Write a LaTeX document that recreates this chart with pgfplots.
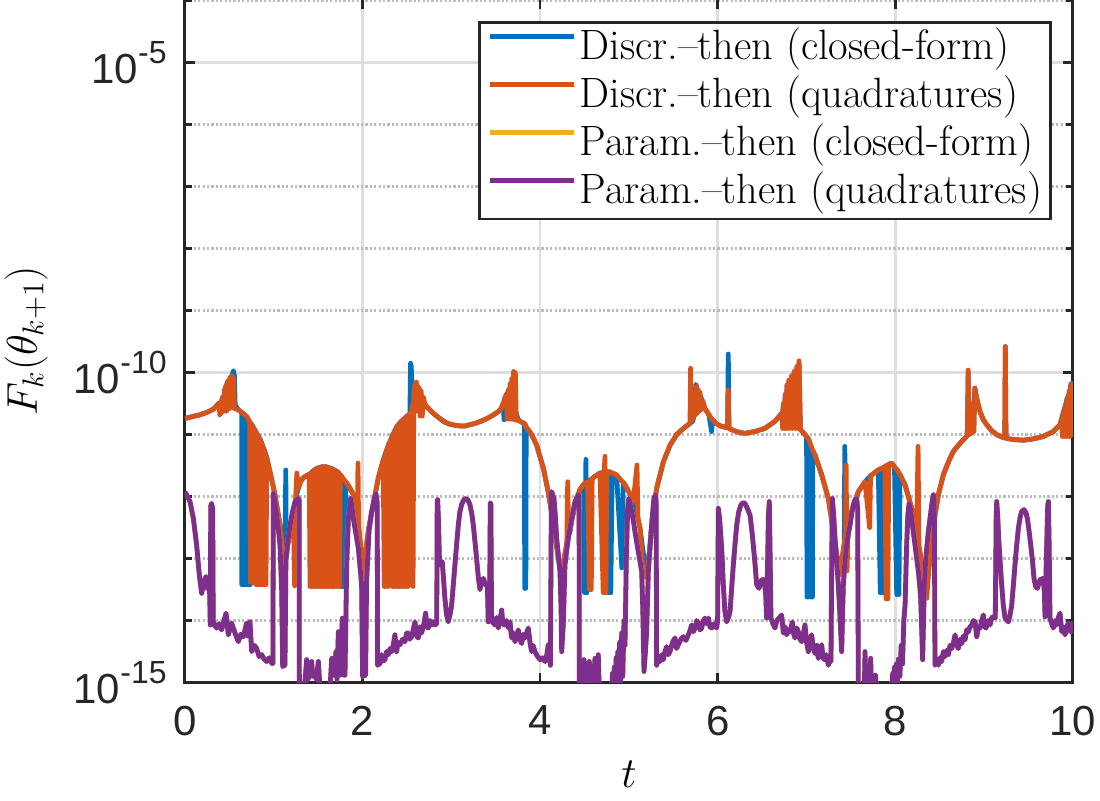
\RequirePackage{fix-cm}
\documentclass[border=0pt]{standalone}
\usepackage{fontspec}
\usepackage{pgfplots}
\usepackage{pgfplotstable}
\pgfplotsset{compat=1.18}

\newfontfamily\sansf{Liberation Sans}
\definecolor{mblue}{RGB}{0,114,189}
\definecolor{morange}{RGB}{217,83,25}
\definecolor{myellow}{RGB}{237,177,32}
\definecolor{mpurple}{RGB}{126,47,142}
\definecolor{axgray}{RGB}{38,38,38}
\definecolor{gridmaj}{RGB}{222,222,222}
\definecolor{gridmin}{RGB}{188,188,188}

\newcommand\tickfont{\sansf\fontsize{21}{21}\selectfont}
\newcommand\pw[1]{10\raisebox{10pt}{\fontsize{16}{16}\selectfont #1}}

% log10 of F_k(theta_{k+1}); b = closed-form, o = quadratures
\pgfplotstableread{
t b o
0.000 -10.74 -10.74
0.080 -10.71 -10.71
0.170 -10.68 -10.68
0.250 -10.64 -10.64
0.320 -10.59 -10.59
0.385 -10.49 -10.49
0.392 -10.49 -10.68
0.398 -10.48 -10.48
0.405 -10.47 -10.66
0.412 -10.46 -10.46
0.430 -10.38 -10.38
0.436 -10.62 -10.62
0.442 -10.30 -10.30
0.460 -10.22 -10.22
0.466 -10.62 -10.62
0.472 -10.18 -10.18
0.490 -10.12 -10.12
0.500 -10.58 -10.58
0.510 -10.08 -10.08
0.530 -10.05 -10.05
0.545 -9.97 -10.10
0.556 -10.05 -10.58
0.565 -10.52 -10.58
0.600 -10.60 -10.60
0.638 -10.64 -10.64
0.640 -13.42 -10.64
0.648 -10.65 -10.65
0.656 -13.42 -10.66
0.664 -10.67 -10.67
0.672 -13.42 -10.68
0.680 -10.69 -10.69
0.688 -13.42 -10.70
0.696 -10.71 -10.71
0.704 -13.42 -10.73
0.712 -10.75 -10.75
0.720 -13.42 -10.77
0.728 -10.79 -10.79
0.736 -13.42 -13.38
0.744 -10.82 -10.82
0.752 -10.84 -13.38
0.760 -10.86 -10.86
0.768 -10.88 -13.38
0.776 -10.90 -10.90
0.784 -10.92 -12.86
0.792 -10.94 -10.94
0.800 -10.96 -13.42
0.808 -10.98 -10.98
0.816 -11.00 -13.42
0.824 -11.02 -11.02
0.832 -11.04 -13.42
0.840 -11.06 -11.06
0.848 -11.08 -13.42
0.856 -11.11 -11.11
0.864 -11.14 -13.42
0.872 -11.17 -11.17
0.880 -11.20 -13.42
0.888 -11.23 -11.23
0.896 -11.26 -13.42
0.904 -11.29 -11.29
0.912 -11.33 -13.42
0.920 -11.37 -11.37
0.957 -11.60 -11.60
0.985 -11.78 -11.78
1.013 -11.97 -11.97
1.040 -12.20 -12.20
1.070 -12.46 -12.46
1.095 -12.80 -12.80
1.115 -13.10 -13.10
1.125 -13.15 -13.35
1.135 -11.57 -12.95
1.140 -13.00 -12.88
1.160 -12.75 -12.75
1.190 -12.45 -12.45
1.220 -12.24 -12.24
1.235 -12.15 -13.44
1.245 -12.05 -12.05
1.260 -11.95 -11.62
1.276 -11.87 -11.87
1.300 -11.76 -11.76
1.330 -11.70 -11.70
1.350 -11.68 -11.68
1.370 -11.66 -11.66
1.400 -11.64 -11.64
1.408 -11.63 -13.45
1.416 -11.62 -11.62
1.424 -11.61 -13.45
1.432 -11.60 -11.60
1.440 -11.59 -13.45
1.448 -11.58 -11.58
1.456 -11.57 -13.45
1.464 -11.565 -11.565
1.472 -11.56 -13.45
1.480 -11.55 -11.55
1.488 -11.545 -13.45
1.496 -11.54 -11.54
1.504 -11.535 -13.45
1.512 -11.53 -11.53
1.520 -11.53 -13.45
1.528 -11.525 -11.525
1.536 -11.52 -13.45
1.544 -11.52 -11.52
1.552 -11.52 -13.45
1.560 -11.52 -11.52
1.568 -11.52 -13.45
1.576 -11.52 -11.52
1.584 -11.52 -13.45
1.592 -11.52 -11.52
1.600 -11.525 -13.45
1.608 -11.53 -11.53
1.616 -11.53 -13.45
1.624 -11.535 -11.535
1.632 -11.54 -13.45
1.640 -11.545 -11.545
1.648 -11.55 -13.45
1.656 -11.55 -11.55
1.662 -13.45 -11.555
1.668 -11.56 -11.56
1.676 -11.565 -13.45
1.684 -11.57 -11.57
1.692 -11.58 -13.45
1.700 -11.585 -11.585
1.708 -11.59 -13.45
1.716 -11.60 -11.60
1.724 -11.61 -13.45
1.732 -11.62 -11.62
1.740 -11.635 -13.45
1.748 -11.65 -11.65
1.756 -13.45 -11.66
1.764 -11.67 -11.67
1.772 -13.45 -11.69
1.780 -11.71 -11.71
1.788 -13.45 -11.72
1.796 -11.74 -11.74
1.804 -13.45 -11.75
1.812 -11.77 -11.77
1.820 -11.78 -11.78
1.860 -11.87 -11.87
1.896 -11.97 -11.97
1.920 -12.15 -12.15
1.942 -12.33 -12.33
1.948 -12.38 -11.46
1.955 -12.50 -12.50
1.980 -12.85 -12.85
2.005 -13.30 -13.30
2.030 -12.95 -12.95
2.064 -12.56 -12.56
2.090 -12.35 -12.35
2.120 -12.13 -12.13
2.150 -11.90 -11.90
2.177 -11.70 -11.70
2.205 -11.55 -11.55
2.233 -11.41 -11.41
2.244 -11.36 -13.45
2.250 -11.34 -11.34
2.258 -11.30 -13.45
2.264 -11.28 -11.28
2.280 -11.21 -11.21
2.286 -11.19 -13.45
2.292 -11.16 -11.16
2.300 -11.14 -11.14
2.308 -12.67 -11.11
2.314 -11.09 -11.09
2.327 -11.05 -11.05
2.335 -11.02 -13.45
2.343 -10.99 -10.99
2.351 -10.97 -13.45
2.359 -10.95 -10.95
2.367 -10.92 -13.45
2.375 -10.90 -10.90
2.383 -10.88 -13.45
2.391 -10.86 -10.86
2.399 -10.85 -13.45
2.407 -10.83 -10.83
2.415 -10.82 -13.45
2.423 -10.81 -10.81
2.431 -10.79 -13.45
2.439 -10.78 -10.78
2.447 -10.77 -13.45
2.455 -10.76 -10.76
2.463 -10.75 -13.45
2.471 -10.74 -10.74
2.479 -10.73 -13.45
2.487 -10.72 -10.72
2.495 -10.71 -13.45
2.503 -10.70 -10.70
2.511 -10.69 -13.45
2.519 -10.68 -10.68
2.533 -10.66 -10.66
2.540 -9.85 -10.66
2.548 -9.90 -10.66
2.556 -10.30 -10.60
2.562 -10.38 -10.52
2.568 -10.40 -13.45
2.576 -10.33 -10.34
2.590 -10.26 -10.20
2.600 -10.22 -10.16
2.606 -10.25 -10.15
2.612 -10.26 -10.62
2.620 -10.28 -10.22
2.640 -10.32 -10.26
2.648 -10.35 -10.70
2.660 -10.38 -10.30
2.672 -10.42 -10.70
2.685 -10.45 -10.40
2.700 -10.50 -10.50
2.721 -10.55 -10.55
2.770 -10.62 -10.62
2.815 -10.68 -10.68
2.870 -10.74 -10.74
2.927 -10.80 -10.80
2.980 -10.83 -10.83
3.040 -10.85 -10.85
3.100 -10.86 -10.86
3.153 -10.86 -10.86
3.210 -10.84 -10.84
3.265 -10.82 -10.82
3.340 -10.78 -10.78
3.416 -10.73 -10.73
3.475 -10.68 -10.68
3.528 -10.63 -10.63
3.560 -10.58 -10.58
3.585 -10.49 -10.49
3.593 -10.76 -10.45
3.600 -10.42 -10.42
3.620 -10.35 -10.35
3.630 -10.33 -10.75
3.640 -10.30 -10.28
3.650 -10.28 -10.75
3.660 -10.25 -10.18
3.670 -10.22 -10.75
3.680 -10.20 -10.10
3.690 -10.18 -10.75
3.700 -10.15 -9.98
3.710 -10.15 -10.76
3.720 -10.60 -10.00
3.730 -10.65 -10.77
3.750 -10.76 -10.76
3.790 -10.80 -10.80
3.822 -10.82 -10.82
3.826 -13.48 -10.83
3.832 -10.84 -10.84
3.838 -13.48 -10.86
3.842 -10.88 -10.88
3.904 -11.00 -11.00
3.960 -11.17 -11.17
4.035 -11.54 -11.54
4.090 -11.92 -11.92
4.150 -12.45 -12.45
4.200 -12.95 -12.95
4.240 -13.30 -13.30
4.270 -13.00 -13.00
4.300 -12.75 -12.75
4.310 -12.70 -11.76
4.320 -12.62 -12.62
4.335 -12.56 -12.56
4.360 -12.35 -12.35
4.410 -12.03 -12.03
4.450 -11.88 -11.88
4.490 -11.80 -11.80
4.500 -13.55 -11.79
4.515 -11.40 -11.78
4.525 -13.55 -11.77
4.535 -11.76 -11.76
4.555 -11.74 -13.50
4.565 -11.73 -11.73
4.575 -11.72 -13.50
4.585 -11.71 -11.71
4.620 -11.67 -11.67
4.673 -11.62 -11.62
4.710 -11.61 -13.55
4.720 -11.61 -11.61
4.730 -11.60 -11.35
4.740 -11.60 -13.55
4.750 -11.60 -11.60
4.770 -13.55 -11.60
4.780 -11.60 -11.60
4.795 -13.55 -11.61
4.810 -11.62 -11.62
4.860 -11.65 -11.65
4.920 -13.15 -11.75
4.935 -11.77 -11.77
4.955 -11.81 -11.81
5.000 -11.93 -11.93
5.049 -12.08 -12.08
5.090 -12.30 -11.49
5.100 -12.35 -12.35
5.124 -12.51 -12.51
5.160 -12.90 -13.30
5.180 -13.10 -13.20
5.200 -13.30 -13.30
5.230 -12.90 -12.90
5.260 -12.40 -12.40
5.311 -11.87 -11.87
5.387 -11.44 -11.44
5.462 -11.17 -11.17
5.537 -11.00 -11.00
5.612 -10.90 -10.90
5.687 -10.82 -10.82
5.694 -10.81 -9.93
5.702 -10.80 -10.78
5.720 -10.78 -10.74
5.740 -10.60 -10.35
5.752 -10.19 -10.68
5.760 -10.22 -10.22
5.770 -10.28 -10.65
5.780 -10.30 -10.28
5.790 -10.35 -10.62
5.800 -10.38 -10.32
5.810 -10.40 -10.60
5.830 -10.48 -10.45
5.856 -10.58 -10.58
5.900 -10.68 -10.68
5.930 -10.95 -10.74
5.940 -10.76 -10.76
5.980 -10.82 -10.82
6.030 -10.86 -10.86
6.080 -10.88 -10.88
6.110 -10.89 -10.89
6.118 -9.70 -10.28
6.126 -10.90 -10.90
6.156 -10.92 -10.92
6.230 -10.96 -10.96
6.306 -10.98 -10.98
6.420 -10.95 -10.95
6.530 -10.90 -10.90
6.640 -10.79 -10.79
6.720 -10.66 -10.66
6.730 -10.64 -10.90
6.740 -10.50 -10.50
6.750 -10.62 -10.90
6.760 -10.35 -10.35
6.770 -10.60 -10.90
6.780 -10.20 -10.20
6.790 -10.50 -10.90
6.800 -10.15 -10.12
6.810 -10.50 -10.90
6.830 -10.08 -10.05
6.840 -10.50 -10.90
6.860 -10.00 -9.98
6.870 -10.50 -10.90
6.890 -9.95 -9.90
6.900 -10.50 -10.90
6.915 -9.85 -9.81
6.930 -10.92 -10.92
6.945 -10.94 -10.94
7.000 -11.03 -11.03
7.005 -13.62 -11.04
7.020 -13.62 -11.06
7.030 -11.10 -11.10
7.050 -13.62 -11.18
7.065 -13.62 -11.24
7.070 -11.26 -11.26
7.095 -11.33 -11.33
7.170 -11.65 -11.65
7.245 -12.03 -12.03
7.290 -12.45 -12.45
7.330 -12.85 -12.85
7.376 -13.26 -13.26
7.400 -13.00 -13.00
7.425 -12.75 -12.75
7.430 -11.19 -12.70
7.440 -12.60 -12.60
7.445 -12.55 -11.49
7.455 -12.50 -13.20
7.470 -12.40 -12.40
7.508 -12.24 -12.24
7.583 -11.92 -11.92
7.658 -11.76 -11.76
7.710 -11.68 -12.50
7.720 -11.66 -11.66
7.733 -11.65 -11.65
7.808 -11.57 -11.57
7.830 -13.55 -11.55
7.845 -11.55 -11.55
7.860 -13.55 -11.53
7.875 -13.55 -11.52
7.883 -11.52 -11.52
7.895 -11.50 -13.65
7.905 -11.50 -11.50
7.915 -11.49 -13.65
7.925 -11.48 -11.48
7.958 -11.46 -11.46
7.990 -11.52 -11.52
8.015 -13.58 -11.56
8.025 -11.58 -11.58
8.040 -13.58 -11.62
8.050 -11.64 -11.64
8.109 -11.81 -11.81
8.184 -12.19 -12.19
8.240 -12.60 -12.60
8.255 -12.72 -11.19
8.265 -12.80 -12.80
8.300 -13.10 -13.10
8.330 -13.30 -13.50
8.353 -13.45 -13.64
8.375 -13.20 -13.20
8.400 -12.80 -12.80
8.428 -12.46 -12.46
8.484 -11.97 -11.97
8.540 -11.65 -11.65
8.597 -11.44 -11.44
8.653 -11.27 -11.27
8.728 -11.14 -11.14
8.800 -11.03 -11.03
8.810 -11.02 -11.02
8.820 -10.00 -9.96
8.830 -11.00 -11.00
8.845 -10.98 -10.98
8.860 -10.97 -10.97
8.875 -10.90 -10.50
8.885 -10.50 -10.95
8.895 -10.25 -10.25
8.910 -10.38 -10.38
8.930 -10.50 -10.50
8.953 -10.63 -10.63
8.990 -10.76 -10.76
9.028 -10.84 -10.84
9.080 -10.93 -10.93
9.141 -11.00 -11.00
9.200 -11.04 -11.04
9.232 -11.05 -11.05
9.238 -9.58 -9.58
9.245 -11.06 -11.06
9.329 -11.08 -11.08
9.441 -11.09 -11.09
9.550 -11.07 -11.07
9.666 -11.03 -11.03
9.779 -10.95 -10.95
9.854 -10.84 -10.84
9.870 -10.75 -10.75
9.880 -10.70 -11.03
9.890 -10.65 -10.65
9.900 -10.60 -11.03
9.910 -10.55 -10.55
9.920 -10.50 -11.03
9.930 -10.45 -10.42
9.940 -10.40 -11.03
9.955 -10.35 -10.30
9.965 -10.30 -11.03
9.975 -10.20 -10.20
9.985 -10.17 -10.17
9.990 -10.60 -11.00
10.000 -10.80 -10.95
}\discr

% log10 of F_k(theta_{k+1}) for the parametrize-then variants
\pgfplotstableread{
t p
0.000 -11.93
0.011 -11.95
0.056 -12.08
0.094 -12.35
0.131 -12.78
0.161 -13.26
0.188 -13.56
0.214 -13.37
0.236 -13.29
0.251 -13.48
0.274 -13.32
0.285 -14.07
0.290 -12.15
0.300 -12.11
0.312 -12.20
0.318 -14.00
0.330 -14.07
0.357 -14.12
0.385 -14.05
0.413 -14.15
0.440 -14.00
0.462 -13.88
0.488 -14.23
0.525 -14.04
0.563 -14.20
0.601 -14.34
0.630 -14.22
0.657 -14.26
0.694 -14.04
0.710 -14.25
0.732 -14.02
0.751 -14.50
0.780 -14.40
0.807 -14.45
0.835 -14.58
0.864 -14.55
0.890 -14.62
0.920 -14.66
0.950 -14.60
0.976 -14.69
0.990 -14.69
0.995 -11.95
1.010 -12.05
1.032 -12.30
1.050 -12.50
1.070 -12.78
1.089 -13.53
1.100 -14.74
1.126 -14.72
1.137 -13.00
1.160 -12.70
1.183 -12.46
1.210 -12.25
1.239 -12.08
1.276 -12.03
1.285 -12.05
1.288 -15.10
1.345 -15.10
1.370 -14.63
1.385 -14.95
1.400 -14.88
1.426 -14.66
1.440 -14.90
1.464 -14.88
1.480 -14.95
1.502 -14.66
1.520 -15.10
1.633 -15.10
1.652 -14.61
1.678 -14.88
1.700 -14.50
1.712 -14.95
1.727 -14.18
1.746 -14.88
1.772 -13.96
1.790 -14.88
1.802 -14.88
1.821 -13.10
1.840 -12.35
1.866 -12.03
1.896 -12.35
1.933 -12.67
1.952 -12.83
1.989 -13.42
2.000 -14.90
2.034 -14.88
2.045 -13.37
2.072 -12.56
2.102 -12.24
2.132 -12.03
2.150 -11.95
2.165 -12.10
2.169 -14.72
2.196 -14.69
2.214 -14.55
2.235 -14.65
2.252 -14.63
2.270 -14.50
2.289 -14.55
2.310 -14.45
2.327 -14.50
2.345 -14.40
2.364 -14.23
2.383 -14.50
2.400 -14.35
2.421 -14.39
2.450 -14.30
2.477 -14.34
2.495 -14.20
2.515 -14.20
2.530 -14.30
2.552 -14.26
2.570 -14.15
2.590 -14.02
2.610 -14.25
2.627 -14.28
2.645 -14.10
2.665 -14.20
2.690 -14.05
2.710 -13.88
2.725 -14.10
2.740 -14.12
2.760 -14.00
2.777 -14.07
2.800 -14.02
2.815 -14.07
2.835 -14.05
2.840 -12.10
2.845 -12.05
2.855 -12.40
2.865 -13.00
2.875 -13.10
2.897 -13.05
2.910 -13.30
2.927 -13.64
2.945 -13.90
2.965 -14.02
2.985 -13.90
3.003 -13.75
3.020 -13.45
3.040 -13.10
3.060 -12.75
3.078 -12.46
3.095 -12.25
3.115 -12.13
3.140 -12.05
3.164 -12.03
3.188 -12.06
3.209 -12.13
3.230 -12.28
3.247 -12.46
3.265 -12.72
3.284 -13.00
3.303 -13.30
3.322 -13.50
3.340 -13.38
3.359 -13.32
3.385 -13.42
3.405 -13.45
3.415 -14.02
3.430 -13.90
3.438 -12.10
3.445 -12.12
3.452 -13.90
3.461 -14.02
3.491 -14.07
3.510 -13.95
3.528 -14.12
3.545 -14.00
3.566 -13.83
3.580 -14.05
3.596 -14.07
3.620 -14.00
3.641 -14.12
3.660 -14.02
3.678 -14.28
3.697 -14.20
3.716 -14.34
3.735 -14.25
3.753 -14.15
3.772 -14.30
3.791 -14.37
3.810 -14.22
3.828 -14.28
3.848 -14.20
3.866 -14.12
3.885 -14.35
3.903 -14.50
3.920 -14.40
3.941 -14.50
3.970 -14.58
3.998 -14.63
4.025 -14.60
4.054 -14.66
4.075 -14.55
4.091 -14.39
4.105 -14.60
4.115 -14.72
4.125 -12.20
4.129 -11.92
4.155 -12.03
4.170 -12.30
4.185 -12.67
4.205 -12.95
4.223 -13.21
4.235 -13.80
4.242 -14.50
4.260 -14.07
4.279 -13.10
4.300 -12.85
4.317 -12.67
4.354 -12.35
4.392 -12.08
4.430 -11.97
4.438 -12.10
4.441 -15.10
4.467 -15.10
4.480 -14.85
4.493 -14.63
4.508 -15.00
4.523 -14.88
4.538 -15.00
4.553 -14.66
4.565 -15.00
4.579 -14.93
4.598 -15.05
4.617 -14.61
4.627 -15.05
4.636 -14.93
4.645 -15.05
4.654 -14.55
4.665 -15.10
4.805 -15.10
4.815 -14.85
4.825 -15.10
4.835 -14.75
4.845 -15.10
4.855 -14.60
4.865 -15.10
4.875 -14.50
4.885 -15.05
4.895 -14.35
4.905 -15.00
4.918 -14.20
4.930 -14.90
4.944 -14.00
4.955 -14.40
4.970 -13.00
4.985 -12.20
4.997 -12.03
5.010 -12.10
5.030 -12.24
5.050 -12.40
5.067 -12.56
5.085 -12.72
5.105 -12.89
5.125 -13.05
5.143 -13.21
5.155 -13.80
5.169 -14.82
5.185 -14.50
5.199 -14.18
5.210 -13.60
5.218 -13.21
5.235 -12.85
5.255 -12.46
5.270 -12.20
5.281 -12.03
5.300 -11.97
5.306 -12.10
5.311 -14.72
5.330 -14.60
5.349 -14.66
5.368 -14.55
5.387 -14.63
5.405 -14.50
5.424 -14.42
5.442 -14.55
5.462 -14.50
5.490 -14.35
5.518 -14.28
5.535 -14.45
5.555 -14.39
5.585 -14.30
5.612 -14.26
5.640 -14.32
5.668 -14.23
5.690 -14.15
5.706 -14.07
5.725 -14.18
5.743 -14.12
5.762 -14.00
5.781 -14.04
5.800 -14.15
5.818 -14.12
5.838 -14.00
5.856 -13.96
5.875 -14.05
5.894 -13.96
5.912 -14.10
5.931 -14.12
5.960 -14.05
5.987 -14.12
5.998 -14.00
6.006 -12.19
6.020 -12.35
6.036 -12.67
6.050 -13.00
6.062 -13.42
6.080 -13.85
6.100 -14.02
6.120 -13.95
6.138 -13.85
6.155 -13.50
6.175 -13.10
6.195 -12.75
6.213 -12.46
6.235 -12.25
6.261 -12.13
6.285 -12.10
6.306 -12.11
6.330 -12.18
6.363 -12.30
6.380 -12.50
6.400 -12.78
6.420 -13.10
6.438 -13.42
6.464 -13.48
6.494 -13.34
6.524 -13.34
6.540 -13.60
6.550 -13.96
6.570 -12.30
6.580 -12.08
6.590 -13.00
6.599 -13.96
6.620 -14.05
6.644 -14.12
6.665 -14.00
6.689 -13.96
6.719 -13.91
6.738 -14.20
6.758 -14.10
6.776 -14.23
6.795 -14.15
6.813 -14.18
6.840 -14.02
6.855 -14.22
6.869 -14.28
6.890 -14.12
6.907 -14.18
6.925 -14.30
6.945 -14.34
6.965 -14.20
6.982 -14.07
7.000 -14.35
7.020 -14.50
7.040 -14.30
7.057 -14.23
7.075 -14.45
7.095 -14.53
7.115 -14.40
7.132 -14.61
7.150 -14.50
7.170 -14.39
7.185 -14.60
7.200 -14.63
7.222 -14.55
7.245 -14.72
7.262 -14.62
7.275 -14.66
7.283 -13.00
7.290 -12.03
7.305 -12.30
7.320 -12.67
7.340 -13.05
7.357 -13.42
7.375 -13.90
7.395 -14.50
7.405 -13.90
7.414 -13.42
7.432 -13.05
7.451 -12.78
7.470 -12.60
7.489 -12.46
7.508 -12.28
7.526 -12.13
7.545 -12.05
7.564 -12.03
7.575 -12.20
7.583 -15.10
7.650 -15.10
7.658 -14.50
7.665 -15.10
7.700 -15.10
7.722 -14.61
7.730 -15.10
7.760 -15.10
7.775 -14.88
7.785 -15.10
7.958 -15.10
7.970 -14.85
7.980 -15.10
7.990 -14.75
8.000 -15.10
8.010 -14.70
8.020 -15.05
8.035 -14.62
8.050 -14.90
8.065 -14.40
8.080 -14.70
8.095 -14.00
8.109 -13.75
8.127 -12.78
8.140 -12.30
8.154 -12.11
8.170 -12.20
8.184 -12.35
8.200 -12.55
8.221 -12.78
8.240 -13.00
8.259 -13.21
8.275 -13.45
8.285 -13.64
8.307 -14.63
8.326 -13.42
8.340 -13.05
8.353 -12.83
8.370 -12.58
8.390 -12.35
8.410 -12.12
8.428 -11.97
8.438 -12.10
8.446 -14.72
8.465 -14.65
8.484 -14.72
8.502 -14.60
8.521 -14.66
8.540 -14.50
8.559 -14.58
8.578 -14.48
8.597 -14.55
8.615 -14.40
8.634 -14.45
8.655 -14.35
8.672 -14.23
8.690 -14.40
8.709 -14.45
8.728 -14.30
8.747 -14.37
8.765 -14.25
8.784 -14.31
8.803 -14.15
8.822 -14.18
8.840 -14.10
8.859 -14.07
8.878 -14.00
8.897 -14.02
8.916 -14.26
8.935 -14.10
8.953 -14.12
8.972 -14.00
8.991 -13.91
9.005 -14.10
9.021 -14.12
9.045 -14.00
9.066 -14.07
9.085 -13.95
9.103 -13.94
9.125 -13.96
9.135 -12.30
9.141 -12.08
9.152 -12.30
9.163 -12.67
9.180 -13.05
9.197 -13.42
9.215 -13.75
9.235 -13.96
9.272 -14.02
9.290 -13.92
9.310 -13.75
9.330 -13.40
9.347 -13.10
9.365 -12.80
9.385 -12.51
9.405 -12.33
9.422 -12.24
9.449 -12.21
9.470 -12.26
9.486 -12.35
9.505 -12.55
9.524 -12.78
9.545 -13.05
9.561 -13.32
9.580 -13.45
9.599 -13.48
9.629 -13.34
9.666 -13.32
9.678 -13.55
9.685 -13.94
9.700 -13.00
9.715 -12.15
9.723 -12.08
9.732 -12.80
9.741 -13.96
9.760 -14.05
9.779 -14.12
9.800 -14.00
9.817 -14.07
9.835 -13.95
9.854 -13.88
9.873 -14.18
9.890 -14.10
9.910 -14.23
9.930 -14.10
9.948 -14.04
9.962 -14.15
9.974 -14.18
9.990 -14.05
10.000 -14.07
}\param

\begin{document}
\begin{tikzpicture}
\begin{axis}[
  scale only axis,
  width=444pt, height=341.9pt,
  xmin=0, xmax=10, ymin=-15, ymax=-3.97,
  axis line style={line width=1.5pt, draw=axgray},
  tick style={line width=1.3pt, draw=axgray},
  tick align=inside,
  major tick length=5pt, minor tick length=3.3pt,
  xtick={0,2,4,6,8,10}, xticklabels={0,2,4,6,8,10},
  ytick={-15,-10,-5}, yticklabels={\pw{-15},\pw{-10},\pw{-5}},
  minor ytick={-14,-13,-12,-11,-9,-8,-7,-6,-4},
  xmajorgrids, ymajorgrids, yminorgrids,
  major grid style={draw=gridmaj, line width=1.3pt},
  minor grid style={draw=gridmin, line width=1.2pt, dash pattern=on 1.1pt off 1.1pt},
  ticklabel style={font=\tickfont, text=axgray, inner sep=0pt},
  xticklabel style={yshift=-11.5pt},
  yticklabel style={xshift=-9pt},
  every axis x label/.style={at={(axis description cs:0.5,0)}, anchor=base, yshift=-52.5pt},
  every axis y label/.style={at={(axis description cs:-0.1667,0.5)}, rotate=90, anchor=base},
  xlabel={\fontsize{21.5}{26}\selectfont$t$},
  ylabel={\fontsize{21.5}{26}\selectfont$F_k(\theta_{k+1})$},
  legend style={at={(rel axis cs:0.9764,0.9676)}, anchor=north east,
    draw=axgray, line width=1.3pt, fill=white,
    inner xsep=4.25pt, inner ysep=2.5pt, row sep=2.6pt, column sep=1.5pt,
    font=\fontsize{21.2}{25}\selectfont,
    nodes={inner sep=0pt, text height=16pt, text depth=5.4pt}},
  legend cell align=left,
  legend image code/.code={\draw[#1, line width=2.2pt] (0pt,6pt) -- (42pt,6pt);},
  every axis plot/.append style={line width=2.4pt, line join=round},
]
\addplot[mblue] table[x=t, y=b] {\discr};
\addlegendentry{Discr.--then (closed-form)}
\addplot[morange] table[x=t, y=o] {\discr};
\addlegendentry{Discr.--then (quadratures)}
\addplot[myellow] table[x=t, y=p] {\param};
\addlegendentry{Param.--then (closed-form)}
\addplot[mpurple] table[x=t, y=p] {\param};
\addlegendentry{Param.--then (quadratures)}
\end{axis}
\pgfresetboundingbox
\path[use as bounding box] (-92.5pt,-59pt) rectangle (457.5pt,341.3pt);
\end{tikzpicture}
\end{document}
